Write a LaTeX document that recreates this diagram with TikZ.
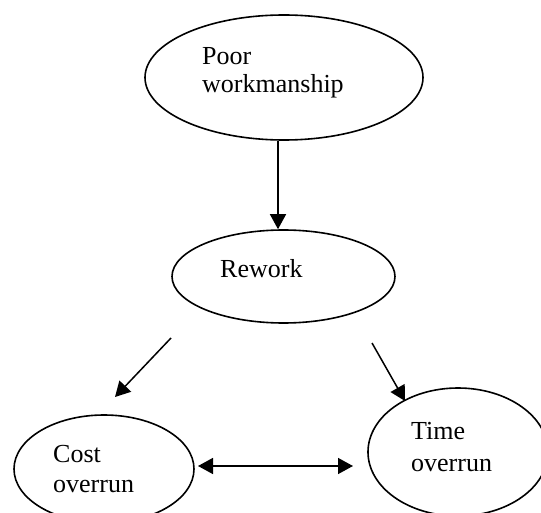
\documentclass[tikz,border=0pt]{standalone}
\usepackage{fontspec}
\setmainfont{Liberation Serif}
\usetikzlibrary{shapes.geometric,arrows.meta}
\begin{document}
\begin{tikzpicture}[x=1pt,y=-1pt,
  oval/.style={draw, ellipse, line width=1.6pt, inner sep=0pt},
  lbl/.style={anchor=base west, inner sep=0pt, font=\fontsize{26}{30}\selectfont},
  arr/.style={line width=1.5pt, -{Triangle[length=15pt,width=16pt]}},
  darr/.style={line width=1.5pt, {Triangle[length=15pt,width=16pt]}-{Triangle[length=15pt,width=16pt]}}]
\useasboundingbox (0,0) rectangle (541,513);
% ellipses
\node[oval, minimum width=278pt, minimum height=125pt] (pw) at (284,77.5) {};
\node[oval, minimum width=223pt, minimum height=93pt] (rw) at (283.5,276.5) {};
\node[oval, minimum width=180pt, minimum height=108pt] (co) at (104,469) {};
\node[oval, minimum width=180pt, minimum height=128pt] (to) at (458,452) {};
% labels
\node[lbl] (pw1) at (202,65) {Poor};
\node[lbl] (pw2) at (202,93) {workmanship};
\node[lbl] (rw1) at (220,277) {Rework};
\node[lbl] (co1) at (53,462) {Cost};
\node[lbl] (co2) at (53,492) {overrun};
\node[lbl] (to1) at (411,439) {Time};
\node[lbl] (to2) at (411,471) {overrun};
% free ends
\coordinate (a1s) at (171,338);
\coordinate (a1e) at (115,397);
\coordinate (a2s) at (372,343);
\coordinate (a2e) at (405,401);
\coordinate (d1) at (198,466);
\coordinate (d2) at (353,466);
\coordinate (m1) at (252,466);
\coordinate (m2) at (276,466);
% connectors
\draw[arr] ([xshift=-6pt]pw.south) -- ([xshift=-5.5pt]rw.north);
\draw[arr] (a1s) -- (a1e);
\draw[arr] (a2s) -- (a2e);
\draw[darr] (d1) -- (d2);
\draw[line width=2.2pt] (m1) -- (m2);
\end{tikzpicture}
\end{document}
